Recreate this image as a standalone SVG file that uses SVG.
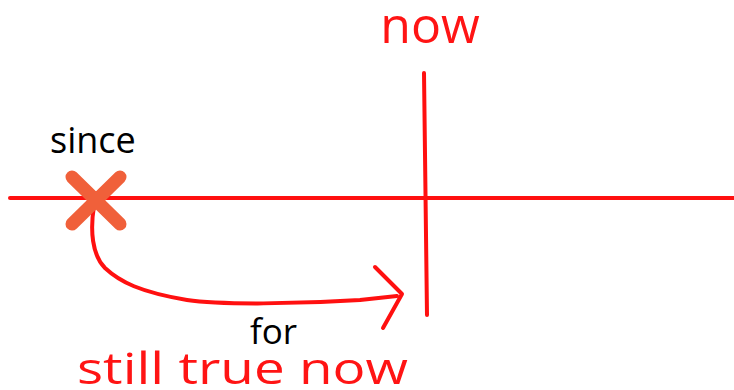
<svg xmlns="http://www.w3.org/2000/svg" width="734" height="390" viewBox="0 0 734 390">
<style>
.red{fill:none;stroke:#ff1010;stroke-width:4;stroke-linecap:round;stroke-linejoin:round}
.lbl{font-family:"Open Sans","Liberation Sans",sans-serif}
.blk{fill:#000}
.rtx{fill:#ff1414}
</style>
<rect width="734" height="390" fill="#ffffff"/>
<g id="connectors">
<line class="red" x1="10" y1="198" x2="734" y2="198" stroke-linecap="butt"/>
<path class="red" d="M94,206 C90,230 92,255 105,268 C120,282 140,292 187,300 C220,305 300,304 360,300 L397,296"/>
<path class="red" d="M375,267 L402,294 L383,328"/>
</g>
<g id="now-line">
<line class="red" x1="424" y1="73" x2="427" y2="315"/>
</g>
<g id="since-mark">
<path d="M72,177 L120,224 M120,177 L72,224" stroke="#f0603a" stroke-width="13" stroke-linecap="round" fill="none"/>
</g>
<g id="label-now">
<text class="lbl rtx" x="430" y="43" font-size="50" text-anchor="middle">now</text>
</g>
<g id="label-since">
<text class="lbl blk" x="50" y="153" font-size="36">since</text>
</g>
<g id="label-for">
<text class="lbl blk" x="250" y="344" font-size="35">for</text>
</g>
<g id="label-still">
<text class="lbl rtx" x="77" y="384" font-size="44" textLength="331" lengthAdjust="spacingAndGlyphs">still true now</text>
</g>
</svg>
